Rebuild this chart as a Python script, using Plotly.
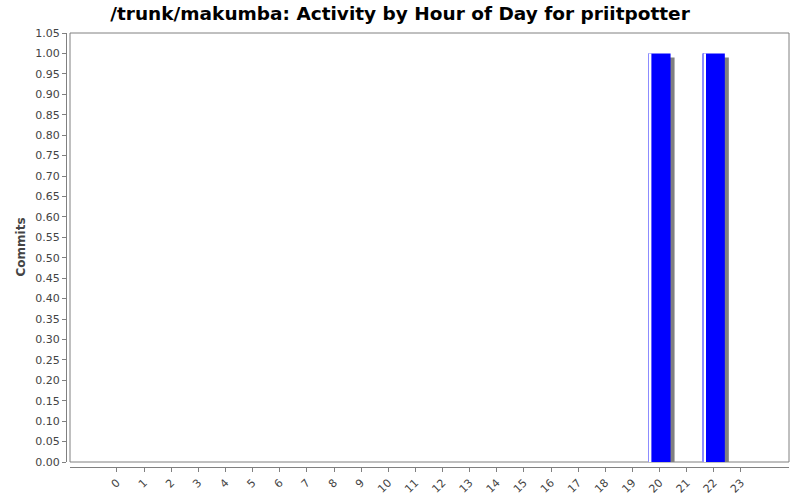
import plotly.graph_objects as go

hours = list(range(24))
commits = [0] * 20 + [1, 0, 1, 0]
hour_labels = [str(h) for h in hours]

W, H = 800, 500
ml, mr, mt, mb = 66, 11, 33, 33
pw = W - ml - mr
ph = H - mt - mb

bw = 0.81          # bar width in category units
px = 27.13         # pixels per category
sh_x = 4 / px      # shadow offset right
sh_y = 4 / 408.6   # shadow offset down

shadow_y = [c - sh_y if c > 0 else 0 for c in commits]

fig = go.Figure()
fig.add_trace(go.Bar(x=hours, y=shadow_y, width=bw, offset=-bw / 2 + sh_x,
                     marker=dict(color='#808080', line=dict(width=0)),
                     hoverinfo='skip'))
fig.add_trace(go.Bar(x=hours, y=commits, width=bw, offset=-bw / 2,
                     marker=dict(color='#0000ff', line=dict(width=0))))
fig.add_trace(go.Bar(x=hours, y=commits, width=1.2 / px, offset=-bw / 2,
                     marker=dict(color='#8c8cff', line=dict(width=0)),
                     hoverinfo='skip'))
fig.add_trace(go.Bar(x=hours, y=commits, width=1.6 / px, offset=-bw / 2 + 1.2 / px,
                     marker=dict(color='#ffffff', line=dict(width=0)),
                     hoverinfo='skip'))

axis_font = dict(family='DejaVu Sans', size=11, color='#444444')

fig.update_layout(
    width=W, height=H,
    margin=dict(l=ml, r=mr, t=mt, b=mb, autoexpand=False),
    barmode='overlay',
    showlegend=False,
    plot_bgcolor='white',
    paper_bgcolor='white',
    title=dict(text='<b>/trunk/makumba: Activity by Hour of Day for priitpotter</b>',
               x=400 / W, xref='container', xanchor='center',
               y=1 - 14 / H, yref='container', yanchor='middle',
               font=dict(family='DejaVu Sans', size=18.5, color='black')),
    xaxis=dict(domain=[4 / pw, 1], range=[-1.73, 24.77],
               anchor='free', position=0, automargin=False,
               tickmode='array', tickvals=hours, ticktext=hour_labels,
               tickangle=-45, ticks='outside', ticklen=4, tickcolor='#808080',
               showline=True, linecolor='#808080', linewidth=1,
               showgrid=False, zeroline=False, tickfont=axis_font),
    yaxis=dict(domain=[5 / ph, 1], range=[0, 1.05],
               anchor='free', position=0, automargin=False,
               dtick=0.05, tick0=0, tickformat='.2f',
               ticks='outside', ticklen=4, tickcolor='#808080',
               showline=True, linecolor='#808080', linewidth=1,
               showgrid=False, zeroline=False, tickfont=axis_font),
)

fig.add_annotation(text='<b>Commits</b>', textangle=-90, showarrow=False,
                   xref='paper', x=-46 / pw, xanchor='center',
                   yref='y domain', y=0.5, yanchor='middle',
                   font=dict(family='DejaVu Sans', size=12, color='#444444'))

# plot frame
fig.add_shape(type='rect', xref='x domain', yref='y domain',
              x0=0, x1=1, y0=0, y1=1,
              line=dict(color='#808080', width=1), layer='below')

# drop the default 8px body margin so the figure fills the window exactly
fig.write_html("out.html", config={'displayModeBar': False},
               post_script="document.body.style.margin='0px';")
